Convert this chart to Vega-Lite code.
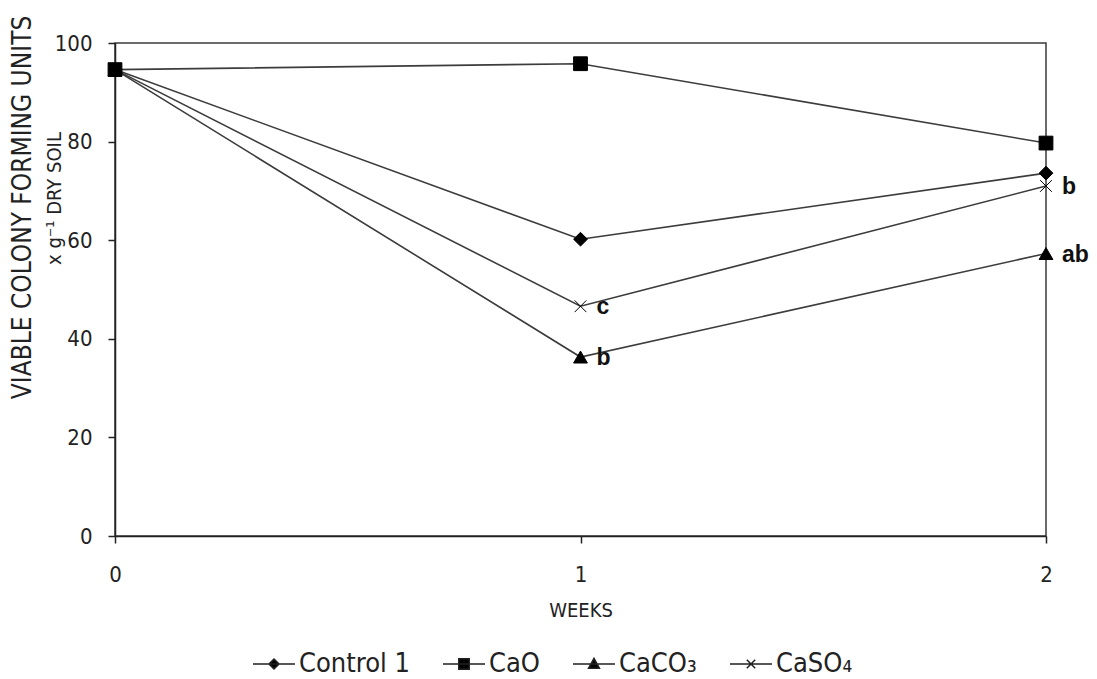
{
  "$schema": "https://vega.github.io/schema/vega-lite/v6.json",
  "width": 931,
  "height": 493,
  "autosize": {"type": "none"},
  "padding": {"left": 115, "top": 43, "right": 51, "bottom": 143},
  "background": "white",
  "config": {
    "font": "Liberation Sans",
    "view": {"stroke": "#3a3a3a", "strokeWidth": 1.5},
    "axis": {
      "grid": false,
      "domainColor": "#222",
      "domainWidth": 1.5,
      "tickColor": "#222",
      "tickWidth": 1.5,
      "tickSize": 7,
      "labelFont": "DejaVu Sans Condensed, Liberation Sans",
      "labelFontSize": 22,
      "labelColor": "#222",
      "labelOverlap": false,
      "labelFlush": false,
      "titleFont": "DejaVu Sans Condensed, Liberation Sans",
      "titleFontWeight": "normal",
      "titleColor": "#222"
    }
  },
  "data": {
    "values": [
      {"week": 0, "value": 94.6, "series": "Control 1", "sig": ""},
      {"week": 1, "value": 60.2, "series": "Control 1", "sig": ""},
      {"week": 2, "value": 73.6, "series": "Control 1", "sig": ""},
      {"week": 0, "value": 94.6, "series": "CaO", "sig": ""},
      {"week": 1, "value": 95.8, "series": "CaO", "sig": ""},
      {"week": 2, "value": 79.7, "series": "CaO", "sig": ""},
      {"week": 0, "value": 94.6, "series": "CaCO₃", "sig": ""},
      {"week": 1, "value": 36.3, "series": "CaCO₃", "sig": "b"},
      {"week": 2, "value": 57.3, "series": "CaCO₃", "sig": "ab"},
      {"week": 0, "value": 94.6, "series": "CaSO₄", "sig": ""},
      {"week": 1, "value": 46.6, "series": "CaSO₄", "sig": "c"},
      {"week": 2, "value": 71.0, "series": "CaSO₄", "sig": "b"}
    ]
  },
  "encoding": {
    "x": {
      "field": "week",
      "type": "ordinal",
      "scale": {"type": "point", "padding": 0},
      "axis": {
        "title": "WEEKS",
        "titleFontSize": 20,
        "titleY": 74,
        "titleBaseline": "middle",
        "labelAngle": 0,
        "labelPadding": 31,
        "labelBaseline": "middle"
      }
    }
  },
  "layer": [
    {
      "mark": {"type": "line", "color": "#3c3c3c", "strokeWidth": 1.6},
      "encoding": {
        "detail": {"field": "series"},
        "y": {
          "field": "value",
          "type": "quantitative",
          "scale": {"domain": [0, 100], "nice": false},
          "axis": {
            "values": [0, 20, 40, 60, 80, 100],
            "title": "VIABLE COLONY FORMING  UNITS",
            "titleFontSize": 26,
            "titleX": -93,
            "titleY": 164,
            "titleAngle": -90,
            "titleAlign": "center",
            "titleBaseline": "middle",
            "labelPadding": 16
          }
        }
      }
    },
    {
      "mark": {"type": "point", "filled": true, "opacity": 1, "stroke": "black", "strokeWidth": 1, "fill": "black", "size": 190},
      "encoding": {
        "y": {"field": "value", "type": "quantitative", "axis": null},
        "shape": {
          "field": "series",
          "type": "nominal",
          "scale": {
            "domain": ["Control 1", "CaO", "CaCO₃", "CaSO₄"],
            "range": ["diamond", "square", "triangle-up", "M-0.85,-0.85L0.85,0.85M-0.85,0.85L0.85,-0.85"]
          },
          "legend": null
        }
      }
    },
    {
      "transform": [{"filter": "datum.week < 0"}],
      "mark": {"type": "point", "filled": true, "opacity": 1, "fill": "black", "stroke": "#222", "strokeWidth": 1.5, "size": 1764},
      "encoding": {
        "shape": {
          "field": "series",
          "type": "nominal",
          "scale": {
            "domain": ["Control 1", "CaO", "CaCO₃", "CaSO₄"],
            "range": [
              "M-1,0H1M0,-0.24L0.24,0L0,0.24L-0.24,0Z",
              "M-1,0H1M-0.25,-0.25H0.25V0.25H-0.25Z",
              "M-1,0H1M0,-0.27L0.26,0.2L-0.26,0.2Z",
              "M-1,0H1M-0.2,-0.2L0.2,0.2M-0.2,0.2L0.2,-0.2"
            ]
          },
          "legend": {
            "title": null,
            "orient": "none",
            "direction": "horizontal",
            "legendX": 137,
            "legendY": 599,
            "labelFont": "DejaVu Sans Condensed, Liberation Sans",
            "labelFontSize": 27,
            "labelColor": "#222",
            "labelOffset": 3,
            "columnPadding": 30,
            "symbolSize": 1764,
            "symbolStrokeWidth": 1.5,
            "symbolOpacity": 1,
            "encode": {
              "symbols": {
                "fill": {"value": "black"},
                "stroke": {"value": "#222"},
                "strokeWidth": {"value": 1.5}
              }
            }
          }
        }
      }
    },
    {
      "mark": {
        "type": "text",
        "align": "left",
        "baseline": "middle",
        "dx": 16,
        "dy": 1,
        "fontSize": 23,
        "fontWeight": "bold",
        "font": "Liberation Sans",
        "color": "#111"
      },
      "encoding": {
        "text": {"field": "sig"},
        "y": {
          "field": "value",
          "type": "quantitative",
          "axis": {
            "orient": "left",
            "title": "x g⁻¹ DRY SOIL",
            "titleFontSize": 20,
            "titleX": -61,
            "titleY": 155,
            "titleAngle": -90,
            "titleAlign": "center",
            "titleBaseline": "middle",
            "labels": false,
            "ticks": false,
            "domain": false
          }
        }
      }
    }
  ],
  "resolve": {
    "axis": {"y": "independent"},
    "scale": {"shape": "independent"},
    "legend": {"shape": "independent"}
  }
}
